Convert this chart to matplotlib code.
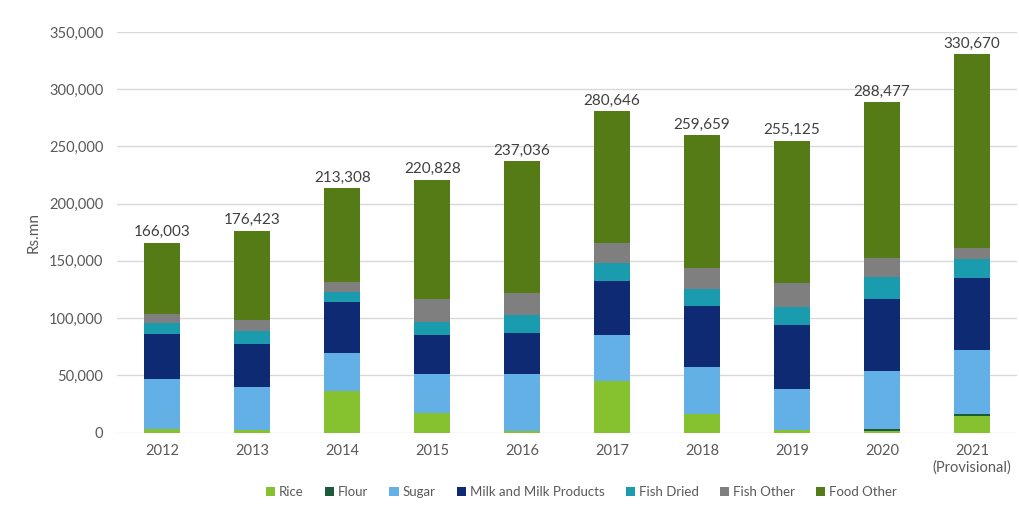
import numpy as np
import matplotlib
matplotlib.use("Agg")
import matplotlib.pyplot as plt

plt.rcParams['font.family'] = ['Lato', 'DejaVu Sans']

years = ["2012", "2013", "2014", "2015", "2016", "2017", "2018", "2019", "2020", "2021\n(Provisional)"]

# Rs.mn by item, bottom to top
rice = [3000, 2500, 36300, 17100, 1500, 45300, 16200, 1900, 1200, 14400]
flour = [100, 100, 100, 100, 100, 100, 100, 100, 2300, 1500]
sugar = [44000, 37550, 33200, 33900, 49500, 39800, 40700, 36000, 50500, 56200]
milk = [39000, 37250, 44700, 34100, 35600, 47200, 53600, 55700, 62400, 62700]
fish_dried = [9600, 11000, 8700, 11700, 16000, 15500, 14500, 16300, 19200, 16600]
fish_other = [8200, 10200, 8200, 19800, 19500, 18000, 19000, 20400, 16600, 9600]
food_other = [62103, 77823, 82108, 104128, 114836, 114746, 115559, 124725, 136277, 169670]

totals = [166003, 176423, 213308, 220828, 237036, 280646, 259659, 255125, 288477, 330670]

series = [
    ("Rice", rice, "#86c12f"),
    ("Flour", flour, "#1d5a3a"),
    ("Sugar", sugar, "#62b0e6"),
    ("Milk and Milk Products", milk, "#0e2a72"),
    ("Fish Dried", fish_dried, "#1a9cae"),
    ("Fish Other", fish_other, "#7f7f7f"),
    ("Food Other", food_other, "#557b16"),
]

fig = plt.figure(figsize=(10.2, 5.15), dpi=100)
ax = fig.add_axes([0.115, 0.16, 0.882, 0.778])

x = np.arange(len(years))
bottom = np.zeros(len(years))
for name, vals, col in series:
    ax.bar(x, vals, 0.4, bottom=bottom, color=col, label=name, zorder=3)
    bottom += np.array(vals)

for xi, t in zip(x, totals):
    ax.text(xi, t + 3000, f"{t:,}", ha="center", va="bottom", fontsize=11, color="#404040")

ax.set_xlim(-0.5, len(years) - 0.5)
ax.set_ylim(0, 350000)
ax.set_yticks(np.arange(0, 350001, 50000))
ax.yaxis.set_major_formatter(matplotlib.ticker.FuncFormatter(lambda v, p: f"{int(v):,}"))
ax.set_xticks(x)
ax.set_xticklabels(years)
ax.tick_params(axis="both", length=0, labelsize=10.5, colors="#595959")
ax.tick_params(axis="x", pad=8)
ax.tick_params(axis="y", pad=10)
ax.grid(axis="y", color="#d9d9d9", linewidth=1, zorder=0)
for s in ax.spines.values():
    s.set_visible(False)
ax.set_ylabel("Rs.mn", fontsize=11, color="#595959", labelpad=6)

fig.legend(loc="center", bbox_to_anchor=(0.57, 0.045), ncol=7, frameon=False,
           fontsize=9.5, handlelength=0.7, handleheight=0.7, handletextpad=0.3,
           columnspacing=1.6, labelcolor="#595959")

fig.savefig("out.png", dpi=100, facecolor="white")
